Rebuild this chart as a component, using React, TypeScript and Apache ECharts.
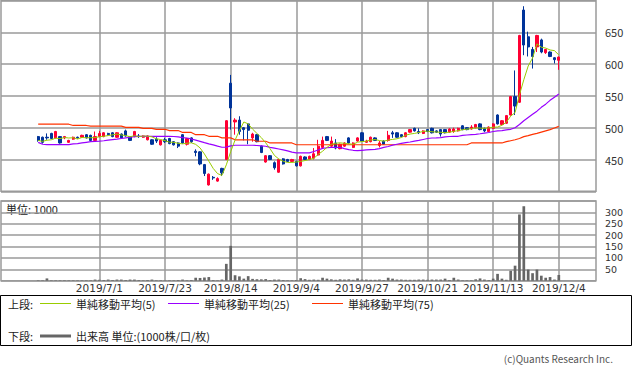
import React, { useEffect, useRef } from "react";
import * as echarts from "echarts";

// Trading days shown (2019/6/11 - 2019/12/4)
const jun = [11, 12, 13, 14, 17, 18, 19, 20, 21, 24, 25, 26, 27, 28];
const jul = [1, 2, 3, 4, 5, 8, 9, 10, 11, 12, 16, 17, 18, 19, 22, 23, 24, 25, 26, 29, 30, 31];
const aug = [1, 2, 5, 6, 7, 8, 9, 13, 14, 15, 16, 19, 20, 21, 22, 23, 26, 27, 28, 29, 30];
const sep = [2, 3, 4, 5, 6, 9, 10, 11, 12, 13, 17, 18, 19, 20, 24, 25, 26, 27, 30];
const oct = [1, 2, 3, 4, 7, 8, 9, 10, 11, 15, 16, 17, 18, 21, 23, 24, 25, 28, 29, 30, 31];
const nov = [1, 5, 6, 7, 8, 11, 12, 13, 14, 15, 18, 19, 20, 21, 22, 25, 26, 27, 28, 29];
const dec = [2, 3, 4];

const tickLabels = ["2019/7/1", "2019/7/23", "2019/8/14", "2019/9/4", "2019/9/27", "2019/10/21", "2019/11/13", "2019/12/4"];

const opens = [
  486, 485, 485, 491, 484, 486, 484, 477, 482, 485,
  485, 489, 488, 480, 486, 486, 491, 492, 485, 490,
  495, 486, 486, 487, 485, 481, 481, 482, 473, 481,
  483, 478, 476, 489, 474, 484, 463, 462, 442, 410,
  422, 416, 436, 450, 570, 509, 512, 500, 506, 484,
  489, 471, 446, 456, 445, 430, 451, 450, 447, 447,
  440, 454, 450, 452, 457, 469, 486, 471, 476, 467,
  471, 484, 469, 479, 492, 477, 478, 484, 472, 479,
  480, 492, 492, 489, 486, 493, 499, 494, 491, 497,
  499, 495, 497, 497, 493, 494, 495, 503, 500, 498,
  500, 506, 499, 494, 499, 520, 505, 507, 520, 549,
  540, 685, 643, 623, 627, 638, 618, 619, 610, 606,
];
const closes = [
  480, 477, 484, 483, 494, 476, 486, 480, 485, 484,
  488, 484, 480, 486, 491, 492, 489, 486, 492, 484,
  487, 480, 494, 486, 487, 487, 474, 479, 480, 478,
  475, 473, 471, 476, 483, 478, 461, 443, 428, 427,
  421, 420, 429, 511, 531, 512, 494, 497, 496, 490,
  478, 461, 456, 450, 437, 450, 443, 447, 450, 440,
  455, 450, 455, 459, 471, 480, 480, 479, 468, 474,
  476, 476, 476, 484, 479, 479, 485, 480, 476, 474,
  488, 490, 485, 486, 492, 497, 495, 492, 495, 494,
  492, 493, 490, 492, 498, 498, 499, 497, 497, 501,
  505, 497, 495, 501, 506, 506, 511, 519, 549, 534,
  645, 630, 627, 612, 645, 619, 623, 612, 607, 611,
];
const lows = [
  478, 475, 481, 482, 483, 475, 482, 476, 481, 483,
  484, 483, 479, 479, 485, 485, 488, 485, 484, 483,
  486, 479, 485, 484, 484, 480, 473, 476, 472, 476,
  474, 472, 468, 475, 472, 476, 455, 441, 424, 409,
  418, 415, 424, 449, 497, 489, 489, 480, 474, 478,
  477, 460, 445, 449, 434, 429, 442, 446, 446, 439,
  439, 449, 449, 450, 456, 468, 479, 470, 466, 466,
  470, 475, 468, 478, 478, 476, 477, 479, 469, 473,
  478, 484, 484, 485, 485, 492, 494, 490, 490, 493,
  491, 492, 486, 491, 492, 492, 494, 496, 496, 497,
  499, 496, 493, 493, 498, 505, 504, 506, 519, 520,
  539, 614, 612, 593, 619, 617, 616, 611, 601, 591,
];
const highs = [
  487, 486, 491, 492, 495, 487, 487, 481, 486, 486,
  489, 490, 489, 494, 495, 493, 492, 493, 493, 491,
  497, 487, 495, 490, 488, 488, 482, 485, 481, 484,
  484, 479, 477, 490, 484, 485, 466, 463, 443, 428,
  424, 422, 437, 512, 583, 515, 518, 501, 507, 492,
  490, 472, 457, 457, 447, 451, 452, 451, 451, 448,
  456, 455, 456, 468, 481, 486, 487, 486, 482, 475,
  477, 485, 477, 485, 493, 481, 486, 485, 479, 480,
  495, 495, 493, 490, 493, 498, 500, 499, 496, 498,
  500, 496, 498, 498, 499, 500, 500, 504, 501, 504,
  506, 507, 500, 502, 507, 521, 512, 520, 550, 590,
  646, 691, 651, 627, 646, 640, 624, 620, 611, 612,
];
const volumes = [
  2, 2, 10, 2, 2, 2, 2, 2, 2, 2,
  2, 2, 2, 5, 4, 3, 5, 3, 5, 5,
  3, 5, 5, 3, 2, 3, 5, 2, 2, 2,
  2, 2, 3, 5, 2, 3, 13, 12, 14, 16,
  3, 2, 5, 74, 153, 24, 19, 9, 20, 8,
  6, 6, 7, 3, 5, 5, 3, 2, 2, 3,
  11, 7, 4, 5, 4, 13, 9, 6, 4, 6,
  5, 6, 4, 10, 5, 5, 4, 4, 5, 3,
  13, 9, 5, 5, 4, 4, 4, 5, 5, 4,
  5, 5, 5, 9, 3, 13, 5, 2, 2, 2,
  6, 10, 5, 3, 9, 30, 9, 4, 44, 66,
  291, 327, 49, 33, 49, 22, 13, 16, 5, 25,
];
const ma25 = [
  477, 474, 473.4, 473.4, 473.4, 473.4, 473.4, 473.5, 474.5, 475,
  476, 477, 478, 478.6, 479, 479.5, 480.5, 481.3, 482, 483,
  484, 485, 486, 486.5, 486.5, 486.5, 486.5, 486.5, 486.4, 486.4,
  486.3, 486.2, 485.5, 484.5, 483.8, 482.3, 480.5, 478.6, 476.5, 474.5,
  473, 471, 469.3, 469.5, 471.5, 472.4, 472.4, 472.4, 472.4, 472.4,
  472, 471.5, 470.8, 469, 468, 466.5, 465, 463.5, 461.5, 460.4,
  460.4, 460.4, 460.4, 462.5, 465, 467.5, 468.5, 469, 469, 469,
  467, 465.5, 464.5, 464, 464.5, 465, 465.5, 465.8, 467, 469,
  470.5, 472.5, 474, 475.5, 476.5, 477.5, 479, 480, 481.5, 483,
  483.8, 484, 484.5, 485.5, 486.2, 486.4, 486.5, 488, 488.5, 489,
  489.5, 490.5, 491.6, 492.5, 494, 495, 495.5, 496.5, 497.5, 500,
  505, 511, 516, 521, 526, 532, 537, 543, 548, 553,
];
const ma75 = [
  505.5, 505.5, 505.5, 505.5, 505.5, 505.5, 505.5, 505.5, 503.5, 503.5,
  503.5, 503.5, 502.5, 502.5, 502.5, 502.5, 502.5, 502.5, 502.5, 502.5,
  500.5, 500.5, 500.5, 500.5, 499, 499, 499, 497.5, 497.5, 497.5,
  495.5, 495.5, 495.5, 492.5, 492.5, 492.5, 489, 489, 489, 486.5,
  486.5, 486.5, 484, 484, 484, 481, 481, 481, 481, 481,
  478.7, 478.7, 478.7, 476, 476, 476, 476, 476, 476, 473.2,
  473.2, 473.2, 473.2, 473.2, 473.2, 473.2, 473.2, 473.2, 473.2, 473.2,
  473.2, 473.2, 473.2, 473.2, 473.2, 473.2, 473.2, 473.2, 473.2, 473.2,
  473.2, 473.2, 473.2, 473.2, 473.2, 473.2, 473.2, 473.2, 473.2, 473.2,
  473.2, 473.2, 473.2, 473.2, 473.2, 473.2, 473.2, 473.2, 473.2, 476,
  476, 476, 476, 476, 476, 476, 476, 478, 479.5, 481,
  483, 486, 487.5, 489.5, 491, 493, 495, 497, 499.5, 502,
];

const dates = [
  ...jun.map((d) => `2019/6/${d}`),
  ...jul.map((d) => `2019/7/${d}`),
  ...aug.map((d) => `2019/8/${d}`),
  ...sep.map((d) => `2019/9/${d}`),
  ...oct.map((d) => `2019/10/${d}`),
  ...nov.map((d) => `2019/11/${d}`),
  ...dec.map((d) => `2019/12/${d}`),
];

const PAD = 8;
const preNames = Array.from({ length: PAD }, (_, i) => `pre${i}`);
const postNames = Array.from({ length: PAD }, (_, i) => `post${i}`);
const categories = [...preNames, ...dates, ...postNames];

const ma5 = closes.map((_, i) => {
  const s = closes.slice(Math.max(0, i - 4), i + 1);
  return +(s.reduce((a, b) => a + b, 0) / s.length).toFixed(1);
});

const padArr = (arr: any[]) => [
  ...Array(PAD).fill("-"),
  ...arr,
  ...Array(PAD).fill("-"),
];

const candleData = padArr(
  dates.map((_, i) => [opens[i], closes[i], lows[i], highs[i]])
).map((v) => (v === "-" ? ["-", "-", "-", "-"] : v));

const FONT = "Noto Sans CJK JP";
const UP = "#ff0033";
const DOWN = "#003399";
const GRID_C = "#9a9a9a";

export default function App() {
  const ref = useRef<HTMLDivElement>(null);
  useEffect(() => {
    if (!ref.current) return;
    const chart = echarts.init(ref.current, undefined, { renderer: "svg" });
    const vMark = {
      silent: true,
      symbol: ["none", "none"],
      z: 1,
      label: { show: false },
      emphasis: { disabled: true },
      lineStyle: { color: GRID_C, width: 1.5, type: "solid" },
      data: tickLabels.map((d) => ({ xAxis: d })),
    };
    const option: any = {
      animation: false,
      backgroundColor: "#ffffff",
      textStyle: { fontFamily: FONT },
      grid: [
        { left: 1, top: 0.5, width: 595, height: 190.8, show: true, borderColor: GRID_C, borderWidth: 1.5 },
        { left: 1, top: 201, width: 595, height: 79.7, show: true, borderColor: GRID_C, borderWidth: 1.5 },
      ],
      xAxis: [
        {
          gridIndex: 0,
          type: "category",
          data: categories,
          boundaryGap: true,
          axisLine: { show: false },
          axisTick: { show: false },
          axisLabel: { show: false },
          splitLine: { show: false },
        },
        {
          gridIndex: 1,
          type: "category",
          data: categories,
          boundaryGap: true,
          axisLine: { show: false },
          axisTick: { show: false },
          splitLine: { show: false },
          axisLabel: {
            interval: (_i: number, name: string) => tickLabels.includes(name),
            fontSize: 10.5,
            lineHeight: 11,
            color: "#333",
            fontFamily: "DejaVu Sans",
            margin: 2,
          },
        },
      ],
      yAxis: [
        {
          gridIndex: 0,
          type: "value",
          position: "right",
          min: 400,
          max: 700,
          interval: 50,
          axisLine: { show: false },
          axisTick: { show: false },
          splitLine: { show: true, lineStyle: { color: GRID_C, width: 1.5 } },
          axisLabel: {
            fontSize: 11,
            color: "#333",
            fontFamily: FONT,
            margin: 9,
            formatter: (v: number) => (v === 400 || v === 700 ? "" : String(v)),
          },
        },
        {
          gridIndex: 1,
          type: "value",
          position: "right",
          min: 0,
          max: 350,
          interval: 50,
          axisLine: { show: false },
          axisTick: { show: false },
          splitLine: { show: true, lineStyle: { color: GRID_C, width: 1.5 } },
          axisLabel: {
            fontSize: 9.5,
            lineHeight: 10,
            color: "#333",
            fontFamily: "DejaVu Sans",
            margin: 9,
            formatter: (v: number) => (v === 0 || v === 350 ? "" : String(v)),
          },
        },
      ],
      series: [
        {
          type: "candlestick",
          xAxisIndex: 0,
          yAxisIndex: 0,
          barWidth: 2.8,
          data: candleData,
          itemStyle: { color: UP, color0: DOWN, borderColor: UP, borderColor0: DOWN, borderWidth: 1 },
          markLine: vMark,
        },
        {
          type: "line",
          xAxisIndex: 0,
          yAxisIndex: 0,
          data: padArr(ma75),
          symbol: "none",
          lineStyle: { color: "#ff3300", width: 1.2 },
        },
        {
          type: "line",
          xAxisIndex: 0,
          yAxisIndex: 0,
          data: padArr(ma25),
          symbol: "none",
          lineStyle: { color: "#9900ff", width: 1.2 },
        },
        {
          type: "line",
          xAxisIndex: 0,
          yAxisIndex: 0,
          data: padArr(ma5),
          symbol: "none",
          lineStyle: { color: "#99cc00", width: 1 },
        },
        {
          type: "bar",
          xAxisIndex: 1,
          yAxisIndex: 1,
          barWidth: 2.7,
          data: padArr(volumes),
          itemStyle: { color: "#666666" },
          markLine: vMark,
        },
      ],
      graphic: [
        { type: "text", left: 6, top: 203, style: { text: "単位: 1000", font: `11px "${FONT}"`, fill: "#222" } },
        {
          type: "rect",
          shape: { x: 0.5, y: 295.5, width: 631, height: 50 },
          style: { fill: "#fff", stroke: "#000", lineWidth: 1 },
        },
        { type: "text", x: 8, y: 304, style: { text: "上段:", font: `11px "${FONT}"`, fill: "#222", verticalAlign: "middle" } },
        { type: "line", shape: { x1: 40, y1: 303.5, x2: 71, y2: 303.5 }, style: { stroke: "#99cc00", lineWidth: 1 } },
        { type: "text", x: 76, y: 304, style: { text: "単純移動平均(5)", font: `11px "${FONT}"`, fill: "#222", verticalAlign: "middle" } },
        { type: "line", shape: { x1: 168, y1: 303.5, x2: 199, y2: 303.5 }, style: { stroke: "#9900ff", lineWidth: 1 } },
        { type: "text", x: 204, y: 304, style: { text: "単純移動平均(25)", font: `11px "${FONT}"`, fill: "#222", verticalAlign: "middle" } },
        { type: "line", shape: { x1: 312, y1: 303.5, x2: 343, y2: 303.5 }, style: { stroke: "#ff3300", lineWidth: 1 } },
        { type: "text", x: 348, y: 304, style: { text: "単純移動平均(75)", font: `11px "${FONT}"`, fill: "#222", verticalAlign: "middle" } },
        { type: "text", x: 8, y: 336, style: { text: "下段:", font: `11px "${FONT}"`, fill: "#222", verticalAlign: "middle" } },
        { type: "line", shape: { x1: 40, y1: 336, x2: 71, y2: 336 }, style: { stroke: "#666666", lineWidth: 3 } },
        { type: "text", x: 76, y: 336, style: { text: "出来高 単位:(1000株/口/枚)", font: `11px "${FONT}"`, fill: "#222", verticalAlign: "middle" } },
        {
          type: "text",
          x: 613,
          y: 358,
          style: { text: "(c)Quants Research Inc.", font: `10px "${FONT}"`, fill: "#555", align: "right", verticalAlign: "middle" },
        },
      ],
    };
    chart.setOption(option);
    return () => chart.dispose();
  }, []);
  return (
    <div
      ref={ref}
      style={{ position: "fixed", left: 0, top: 0, width: 633, height: 373, background: "#fff" }}
    />
  );
}
